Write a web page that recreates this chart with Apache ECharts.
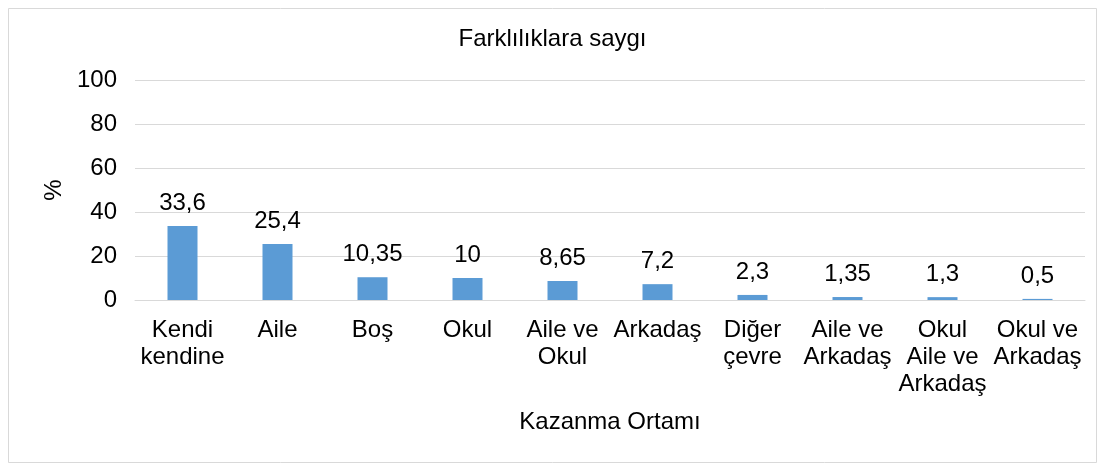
<!DOCTYPE html>
<html>
<head>
<meta charset="utf-8">
<script src="https://cdn.jsdelivr.net/npm/echarts@6/dist/echarts.min.js"></script>
<style>
  html, body { margin: 0; padding: 0; background: #fff; }
  #chart { width: 1105px; height: 469px; }
</style>
</head>
<body>
<div id="chart"></div>
<script>
// kategoriler ve değerler
var categories = ['Kendi\nkendine', 'Aile', 'Boş', 'Okul', 'Aile ve\nOkul', 'Arkadaş', 'Diğer\nçevre', 'Aile ve\nArkadaş', 'Okul\nAile ve\nArkadaş', 'Okul ve\nArkadaş']
var values = [33.6, 25.4, 10.35, 10, 8.65, 7.2, 2.3, 1.35, 1.3, 0.5]
var yTicks = [0, 20, 40, 60, 80, 100]

var font = 'Liberation Sans, Arial, sans-serif'
var fs = 24
var myChart = echarts.init(document.getElementById('chart'))
var option = {
  backgroundColor: '#fff',
  textStyle: { fontFamily: font },
  title: {
    text: 'Farklılıklara saygı',
    left: 'center',
    top: 22,
    textStyle: { fontFamily: font, fontSize: fs, fontWeight: 'normal', color: '#000' }
  },
  // dış çerçeve
  graphic: [{
    type: 'rect',
    shape: { x: 8.5, y: 8.5, width: 1088, height: 454 },
    style: { fill: 'none', stroke: '#d9d9d9', lineWidth: 1 },
    silent: true
  }],
  grid: { left: 135, right: 20, top: 80, bottom: 169 },
  xAxis: {
    type: 'category',
    data: categories,
    name: 'Kazanma Ortamı',
    nameLocation: 'middle',
    nameGap: 110,
    nameTextStyle: { fontFamily: font, fontSize: fs, color: '#000' },
    axisTick: { show: false },
    axisLine: { lineStyle: { color: '#d9d9d9' } },
    axisLabel: {
      interval: 0,
      margin: 17,
      fontFamily: font,
      fontSize: fs,
      lineHeight: 27,
      color: '#000'
    }
  },
  yAxis: {
    type: 'value',
    min: yTicks[0],
    max: yTicks[yTicks.length - 1],
    interval: 20,
    name: '%',
    nameLocation: 'middle',
    nameGap: 69,
    nameTextStyle: { fontFamily: font, fontSize: fs, color: '#000' },
    axisLine: { show: false },
    axisTick: { show: false },
    splitLine: { lineStyle: { color: '#d9d9d9' } },
    axisLabel: { fontFamily: font, fontSize: fs, color: '#000', margin: 18 }
  },
  series: [{
    type: 'bar',
    data: values,
    barWidth: 30,
    itemStyle: { color: '#5b9bd5' },
    label: {
      show: true,
      position: 'top',
      distance: 11,
      fontFamily: font,
      fontSize: fs,
      color: '#000',
      formatter: function (p) {
        return String(p.value).replace('.', ',')
      }
    }
  }]
}
myChart.setOption(option)
</script>
</body>
</html>
